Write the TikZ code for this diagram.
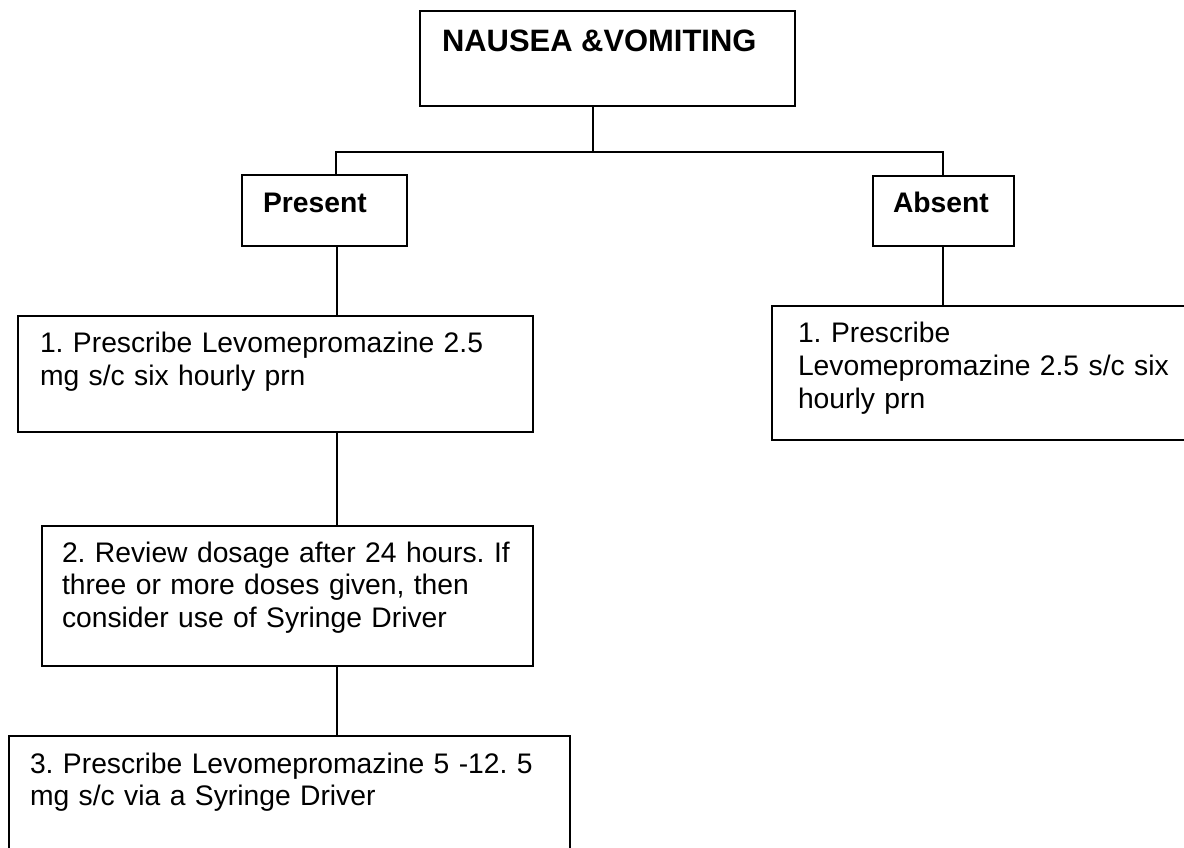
\documentclass[tikz,border=0pt]{standalone}
\usepackage{fontspec}
\setmainfont{Liberation Sans}
\frenchspacing
\begin{document}
\begin{tikzpicture}[x=0.75pt,y=-0.75pt,
  box/.style={draw, line width=1.3pt, inner sep=0pt, outer sep=0pt, anchor=north west},
  conn/.style={line width=1.3pt},
  bodytext/.style={anchor=base west, inner sep=0pt, outer sep=0pt, text width=420pt, align=left, font=\fontsize{21.2}{24.4}\selectfont\frenchspacing},
  headtext/.style={anchor=base west, inner sep=0pt, outer sep=0pt, font=\fontsize{21.2}{24.4}\selectfont\bfseries},
  titletext/.style={anchor=base west, inner sep=0pt, outer sep=0pt, font=\fontsize{23.2}{27}\selectfont\bfseries}]
\useasboundingbox (0,0) rectangle (1184,848);
\clip (0,0) rectangle (1184,848);
% boxes
\node[box, minimum width=281.25pt, minimum height=71.25pt] (top) at (420,11) {};
\node[box, minimum width=123.75pt, minimum height=53.25pt] (present) at (242,175) {};
\node[box, minimum width=105.75pt, minimum height=52.5pt] (absent) at (873,176) {};
\node[box, minimum width=386.25pt, minimum height=87pt] (b1) at (18,316) {};
\node[box, minimum width=368.25pt, minimum height=105pt] (b2) at (42,526) {};
\node[box, minimum width=420.75pt, minimum height=108pt] (b3) at (9,736) {};
\node[box, minimum width=321pt, minimum height=100.5pt] (r1) at (772,306) {};
% texts
\node[titletext] (ttop) at (442,52) {NAUSEA \&VOMITING};
\node[headtext] (tpresent) at (263,213) {Present};
\node[headtext] (tabsent) at (893,213) {Absent};
\node[bodytext] (tb1) at (40,353) {1. Prescribe Levomepromazine 2.5\\mg s/c six hourly prn};
\node[bodytext] (tb2) at (62,562) {2. Review dosage after 24 hours. If\\three or more doses given, then\\consider use of Syringe Driver};
\node[bodytext] (tb3) at (30,773) {3. Prescribe Levomepromazine 5 -12. 5\\mg s/c via a Syringe Driver};
\node[bodytext] (tr1) at (798,343) {1. Prescribe\\Levomepromazine 2.5 s/c six\\hourly prn};
% connectors
\coordinate (j) at (593,152);
\coordinate (hl) at (336,152);
\coordinate (hr) at (943,152);
\coordinate (cl) at (337,400);
\draw[conn] (top.south -| j) -- (j);
\draw[conn] (present.north -| hl) -- (hl) -- (hr) -- (absent.north -| hr);
\draw[conn] (absent.south -| hr) -- (r1.north -| hr);
\draw[conn] (present.south -| cl) -- (b1.north -| cl);
\draw[conn] (b1.south -| cl) -- (b2.north -| cl);
\draw[conn] (b2.south -| cl) -- (b3.north -| cl);
\end{tikzpicture}
\end{document}
